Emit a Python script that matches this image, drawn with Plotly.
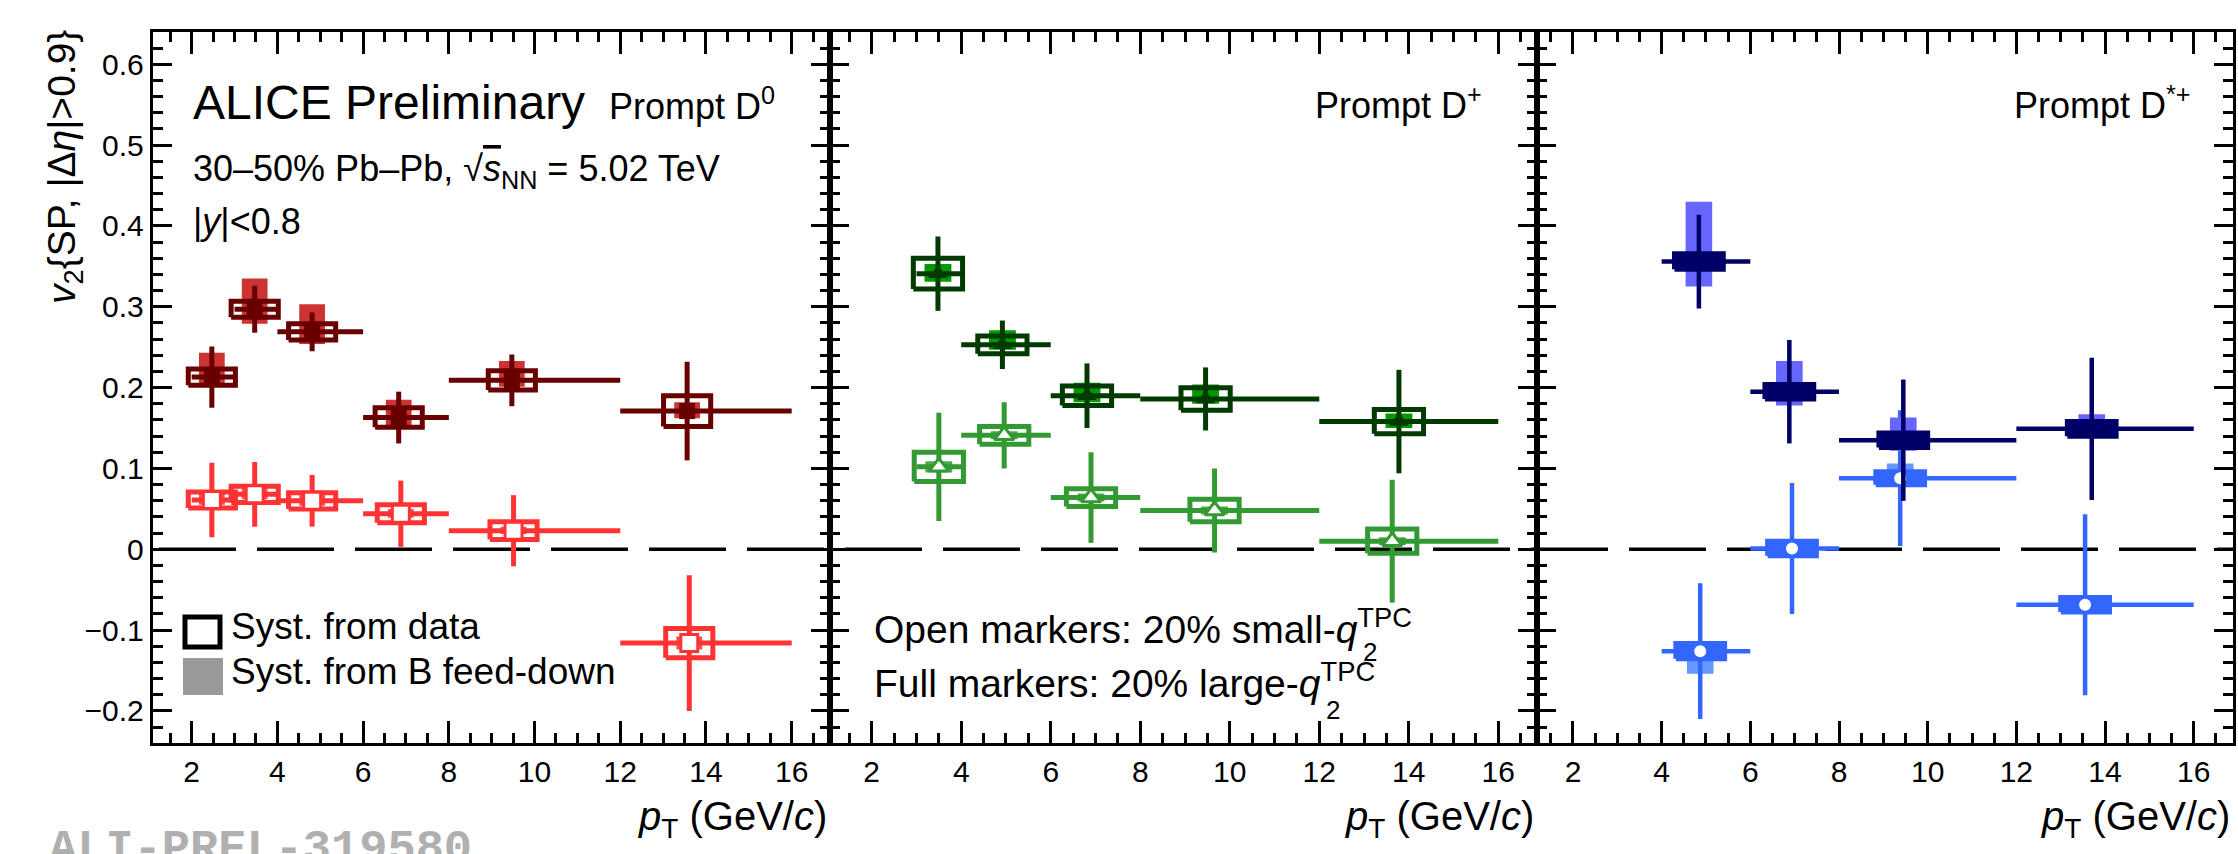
import plotly.graph_objects as go

W, H = 2238, 854

# ---------------- data ----------------
# Prompt D0
bin_lo_D0 = [2, 3, 4, 6, 8, 12]
bin_hi_D0 = [3, 4, 6, 8, 12, 16]
pt_D0_large = [2.47, 3.47, 4.81, 6.83, 9.47, 13.56]
v2_D0_large = [0.213, 0.297, 0.269, 0.163, 0.209, 0.171]
stat_D0_large = [0.038, 0.029, 0.024, 0.032, 0.032, 0.061]
syst_D0_large = [0.010, 0.010, 0.010, 0.012, 0.012, 0.019]
fdhi_D0_large = [0.030, 0.038, 0.034, 0.022, 0.024, 0.011]
fdlo_D0_large = [0.012, 0.018, 0.015, 0.012, 0.008, 0.009]

pt_D0_small = [2.47, 3.47, 4.81, 6.88, 9.51, 13.61]
v2_D0_small = [0.061, 0.068, 0.060, 0.044, 0.023, -0.116]
stat_D0_small = [0.046, 0.040, 0.032, 0.041, 0.044, 0.084]
syst_D0_small = [0.010, 0.010, 0.010, 0.011, 0.011, 0.018]
fdhi_D0_small = [0.008, 0.010, 0.008, 0.006, 0.005, 0.008]
fdlo_D0_small = [0.006, 0.006, 0.006, 0.005, 0.004, 0.008]

# Prompt D+
bin_lo_Dp = [3, 4, 6, 8, 12]
bin_hi_Dp = [4, 6, 8, 12, 16]
pt_Dp_large = [3.48, 4.92, 6.81, 9.46, 13.78]
v2_Dp_large = [0.341, 0.253, 0.190, 0.186, 0.158]
stat_Dp_large = [0.046, 0.030, 0.040, 0.039, 0.064]
syst_Dp_large = [0.019, 0.011, 0.012, 0.014, 0.015]
fdhi_Dp_large = [0.012, 0.018, 0.016, 0.018, 0.010]
fdlo_Dp_large = [0.010, 0.006, 0.008, 0.006, 0.008]

pt_Dp_small = [3.50, 4.96, 6.90, 9.66, 13.63]
v2_Dp_small = [0.102, 0.141, 0.064, 0.048, 0.010]
stat_Dp_small = [0.067, 0.041, 0.056, 0.052, 0.076]
syst_Dp_small = [0.018, 0.011, 0.011, 0.014, 0.015]
fdhi_Dp_small = [0.007, 0.005, 0.005, 0.005, 0.005]
fdlo_Dp_small = [0.007, 0.005, 0.005, 0.005, 0.005]

# Prompt D*+
bin_lo_Ds = [4, 6, 8, 12]
bin_hi_Ds = [6, 8, 12, 16]
pt_Ds_large = [4.84, 6.88, 9.45, 13.70]
v2_Ds_large = [0.356, 0.195, 0.135, 0.149]
stat_Ds_large = [0.058, 0.064, 0.075, 0.088]
syst_Ds_large = [0.0095, 0.009, 0.009, 0.009]
fdhi_Ds_large = [0.074, 0.038, 0.028, 0.018]
fdlo_Ds_large = [0.031, 0.017, 0.013, 0.005]

pt_Ds_small = [4.87, 6.94, 9.38, 13.55]
v2_Ds_small = [-0.126, 0.001, 0.088, -0.0685]
stat_Ds_small = [0.084, 0.081, 0.084, 0.112]
syst_Ds_small = [0.0095, 0.009, 0.008, 0.009]
fdhi_Ds_small = [0.009, 0.004, 0.018, 0.004]
fdlo_Ds_small = [0.028, 0.004, 0.009, 0.004]

x_tick_vals = [2, 4, 6, 8, 10, 12, 14, 16]
y_tick_vals = [-0.2, -0.1, 0, 0.1, 0.2, 0.3, 0.4, 0.5, 0.6]

# ---------------- layout geometry ----------------
FONT = "Liberation Sans"
def px_x(px):
    return px / W
def px_y(py):
    return 1 - py / H

x_domains = [[px_x(152.7), px_x(830)], [px_x(830), px_x(1536.7)], [px_x(1536.7), px_x(2233)]]
x_ranges = [[1.09, 16.894], [1.068, 16.858], [1.182, 16.886]]
y_domain = [px_y(743), px_y(31.7)]
y_range = [-0.2396, 0.6403]

DATA_HW = 0.55   # half-width of data-syst boxes (pT units)
FD_HW = 0.30     # half-width of feed-down boxes

fig = go.Figure()

def axn(i):
    return "" if i == 1 else str(i)

def rect_path(pt, v2, up, dn, hw):
    xs, ys = [], []
    for p, v, a, b in zip(pt, v2, up, dn):
        xs += [p - hw, p + hw, p + hw, p - hw, p - hw, None]
        ys += [v - b, v - b, v + a, v + a, v - b, None]
    return xs, ys

def add_series(panel, pt, v2, lo, hi, stat, syst, fdhi, fdlo, color, fdcolor,
               symbol, is_open, msize, bar_w=5, box_filled=False):
    xa, ya = "x" + axn(panel), "y" + axn(panel)
    # feed-down boxes
    xs, ys = rect_path(pt, v2, fdhi, fdlo, FD_HW)
    fig.add_trace(go.Scatter(x=xs, y=ys, mode="lines", fill="toself",
                             fillcolor=fdcolor, line=dict(width=0, color=fdcolor),
                             xaxis=xa, yaxis=ya, hoverinfo="skip", showlegend=False))
    # data-syst boxes
    xs, ys = rect_path(pt, v2, syst, syst, DATA_HW)
    fig.add_trace(go.Scatter(x=xs, y=ys, mode="lines",
                             fill="toself" if box_filled else "none",
                             fillcolor=color,
                             line=dict(width=5, color=color),
                             xaxis=xa, yaxis=ya, hoverinfo="skip", showlegend=False))
    # points with stat errors
    ex_p = [h - p for h, p in zip(hi, pt)]
    ex_m = [p - l for l, p in zip(lo, pt)]
    if is_open:
        marker = dict(symbol=symbol, size=msize, color="white",
                      line=dict(color=color, width=3))
    else:
        marker = dict(symbol=symbol, size=msize, color=color,
                      line=dict(color=color, width=0))
    fig.add_trace(go.Scatter(
        x=pt, y=v2, mode="markers", marker=marker,
        error_x=dict(type="data", symmetric=False, array=ex_p, arrayminus=ex_m,
                     width=0, thickness=bar_w, color=color),
        error_y=dict(type="data", array=stat, width=0, thickness=bar_w, color=color),
        xaxis=xa, yaxis=ya, hoverinfo="skip", showlegend=False))

# Panel 1: D0
add_series(1, pt_D0_small, v2_D0_small, bin_lo_D0, bin_hi_D0, stat_D0_small,
           syst_D0_small, fdhi_D0_small, fdlo_D0_small, "#ff3333", "#ff4d4d",
           "square", True, 17)
add_series(1, pt_D0_large, v2_D0_large, bin_lo_D0, bin_hi_D0, stat_D0_large,
           syst_D0_large, fdhi_D0_large, fdlo_D0_large, "#680000", "#cc3333",
           "square", False, 16)
# Panel 2: D+
add_series(2, pt_Dp_small, v2_Dp_small, bin_lo_Dp, bin_hi_Dp, stat_Dp_small,
           syst_Dp_small, fdhi_Dp_small, fdlo_Dp_small, "#339933", "#4dab4d",
           "triangle-up", True, 17)
add_series(2, pt_Dp_large, v2_Dp_large, bin_lo_Dp, bin_hi_Dp, stat_Dp_large,
           syst_Dp_large, fdhi_Dp_large, fdlo_Dp_large, "#003a00", "#009900",
           "triangle-up", False, 17)
# Panel 3: D*+
add_series(3, pt_Ds_small, v2_Ds_small, bin_lo_Ds, bin_hi_Ds, stat_Ds_small,
           syst_Ds_small, fdhi_Ds_small, fdlo_Ds_small, "#3366ff", "#6699ff",
           "circle", True, 15, bar_w=4.5, box_filled=True)
add_series(3, pt_Ds_large, v2_Ds_large, bin_lo_Ds, bin_hi_Ds, stat_Ds_large,
           syst_Ds_large, fdhi_Ds_large, fdlo_Ds_large, "#000066", "#6666ff",
           "circle", False, 15, bar_w=4.5, box_filled=True)

# ---------------- axes ----------------
layout = dict(width=W, height=H, margin=dict(l=0, r=0, t=0, b=0),
              paper_bgcolor="white", plot_bgcolor="rgba(0,0,0,0)",
              showlegend=False)
tickfont = dict(family=FONT, size=30, color="black")
for i in range(1, 4):
    layout["xaxis" + axn(i)] = dict(
        domain=x_domains[i - 1], range=x_ranges[i - 1], anchor="y" + axn(i),
        tickmode="array", tickvals=x_tick_vals, ticktext=[str(v) for v in x_tick_vals],
        ticks="inside", ticklen=22, tickwidth=3, tickcolor="black",
        showline=True, linewidth=3, linecolor="black", mirror="allticks",
        showgrid=False, zeroline=False, tickfont=tickfont,
        minor=dict(ticks="inside", ticklen=10, tickwidth=2.5, dtick=0.5, tick0=0,
                   tickcolor="black", showgrid=False))
    layout["yaxis" + axn(i)] = dict(
        domain=y_domain, range=y_range, anchor="x" + axn(i),
        tickmode="array", tickvals=y_tick_vals,
        ticktext=[("0" if v == 0 else ("%.1f" % v).replace("-", "\u2212")) for v in y_tick_vals],
        showticklabels=(i == 1),
        ticks="inside", ticklen=19, tickwidth=3, tickcolor="black",
        showline=True, linewidth=3, linecolor="black", mirror="allticks",
        showgrid=False, zeroline=False, tickfont=tickfont,
        minor=dict(ticks="inside", ticklen=10, tickwidth=2.5, dtick=0.02, tick0=0,
                   tickcolor="black", showgrid=False))
fig.update_layout(**layout)

# dashed zero line across all panels
fig.add_shape(type="line", xref="paper", yref="y", x0=px_x(159), x1=px_x(2233),
              y0=0, y1=0, line=dict(color="black", width=3.5, dash="77px,21px"),
              layer="below")

# legend icons
fig.add_shape(type="rect", xref="paper", yref="paper",
              x0=px_x(185), x1=px_x(220), y0=px_y(647), y1=px_y(617),
              line=dict(color="black", width=5), fillcolor="rgba(0,0,0,0)")
fig.add_shape(type="rect", xref="paper", yref="paper",
              x0=px_x(183), x1=px_x(223), y0=px_y(695), y1=px_y(658),
              line=dict(width=0), fillcolor="#999999")

# ---------------- texts ----------------
def txt(text, x, baseline, size, xanchor="left", sub=False, family=FONT,
        color="black", angle=0):
    off = (0.358 if sub else 0.212) * size + 1
    fig.add_annotation(text=text, x=px_x(x), y=px_y(baseline + off), xref="paper",
                       yref="paper", xanchor=xanchor, yanchor="bottom",
                       showarrow=False, textangle=angle,
                       font=dict(family=family, size=size, color=color))

txt("ALICE Preliminary", 191, 120, 48)
txt("Prompt D<sup>0</sup>", 607, 120, 36)
txt("30\u201350% Pb\u2013Pb, \u221a<span style=\"text-decoration:overline\"><i>s</i></span><sub>NN</sub> = 5.02 TeV",
    191, 182, 36, sub=True)
txt("|<i>y</i>|&lt;0.8", 191, 235, 36)
txt("Prompt D<sup>+</sup>", 1484, 119, 36, xanchor="right")
txt("Prompt D<sup>*+</sup>", 2193, 119, 36, xanchor="right")

txt("Syst. from data", 229, 640, 37)
txt("Syst. from B feed-down", 229, 685, 37)

txt("Open markers: 20% small-<i>q</i><sup>TPC</sup>", 872, 644, 39)
txt("2", 1361, 662, 26)
txt("Full markers: 20% large-<i>q</i><sup>TPC</sup>", 872, 698, 39)
txt("2", 1324, 720, 26)

for xr in [829, 1536, 2232]:
    txt("<i>p</i><sub>T</sub> (GeV/<i>c</i>)", xr, 831, 40, xanchor="right", sub=True)

# y-axis title (rotated)
fig.add_annotation(text="<i>v</i><sub>2</sub>{SP, |\u0394<i>\u03b7</i>|&gt;0.9}",
                   x=px_x(64), y=px_y(28), xref="paper", yref="paper",
                   xanchor="center", yanchor="top", textangle=-90, showarrow=False,
                   font=dict(family=FONT, size=39, color="black"))

# watermark
fig.add_annotation(text="<b>ALI-PREL-319580</b>", x=px_x(47), y=px_y(878),
                   xref="paper", yref="paper", xanchor="left", yanchor="bottom",
                   showarrow=False,
                   font=dict(family="Liberation Mono", size=47, color="#b0b0b0"))

fig.write_html("out.html")
